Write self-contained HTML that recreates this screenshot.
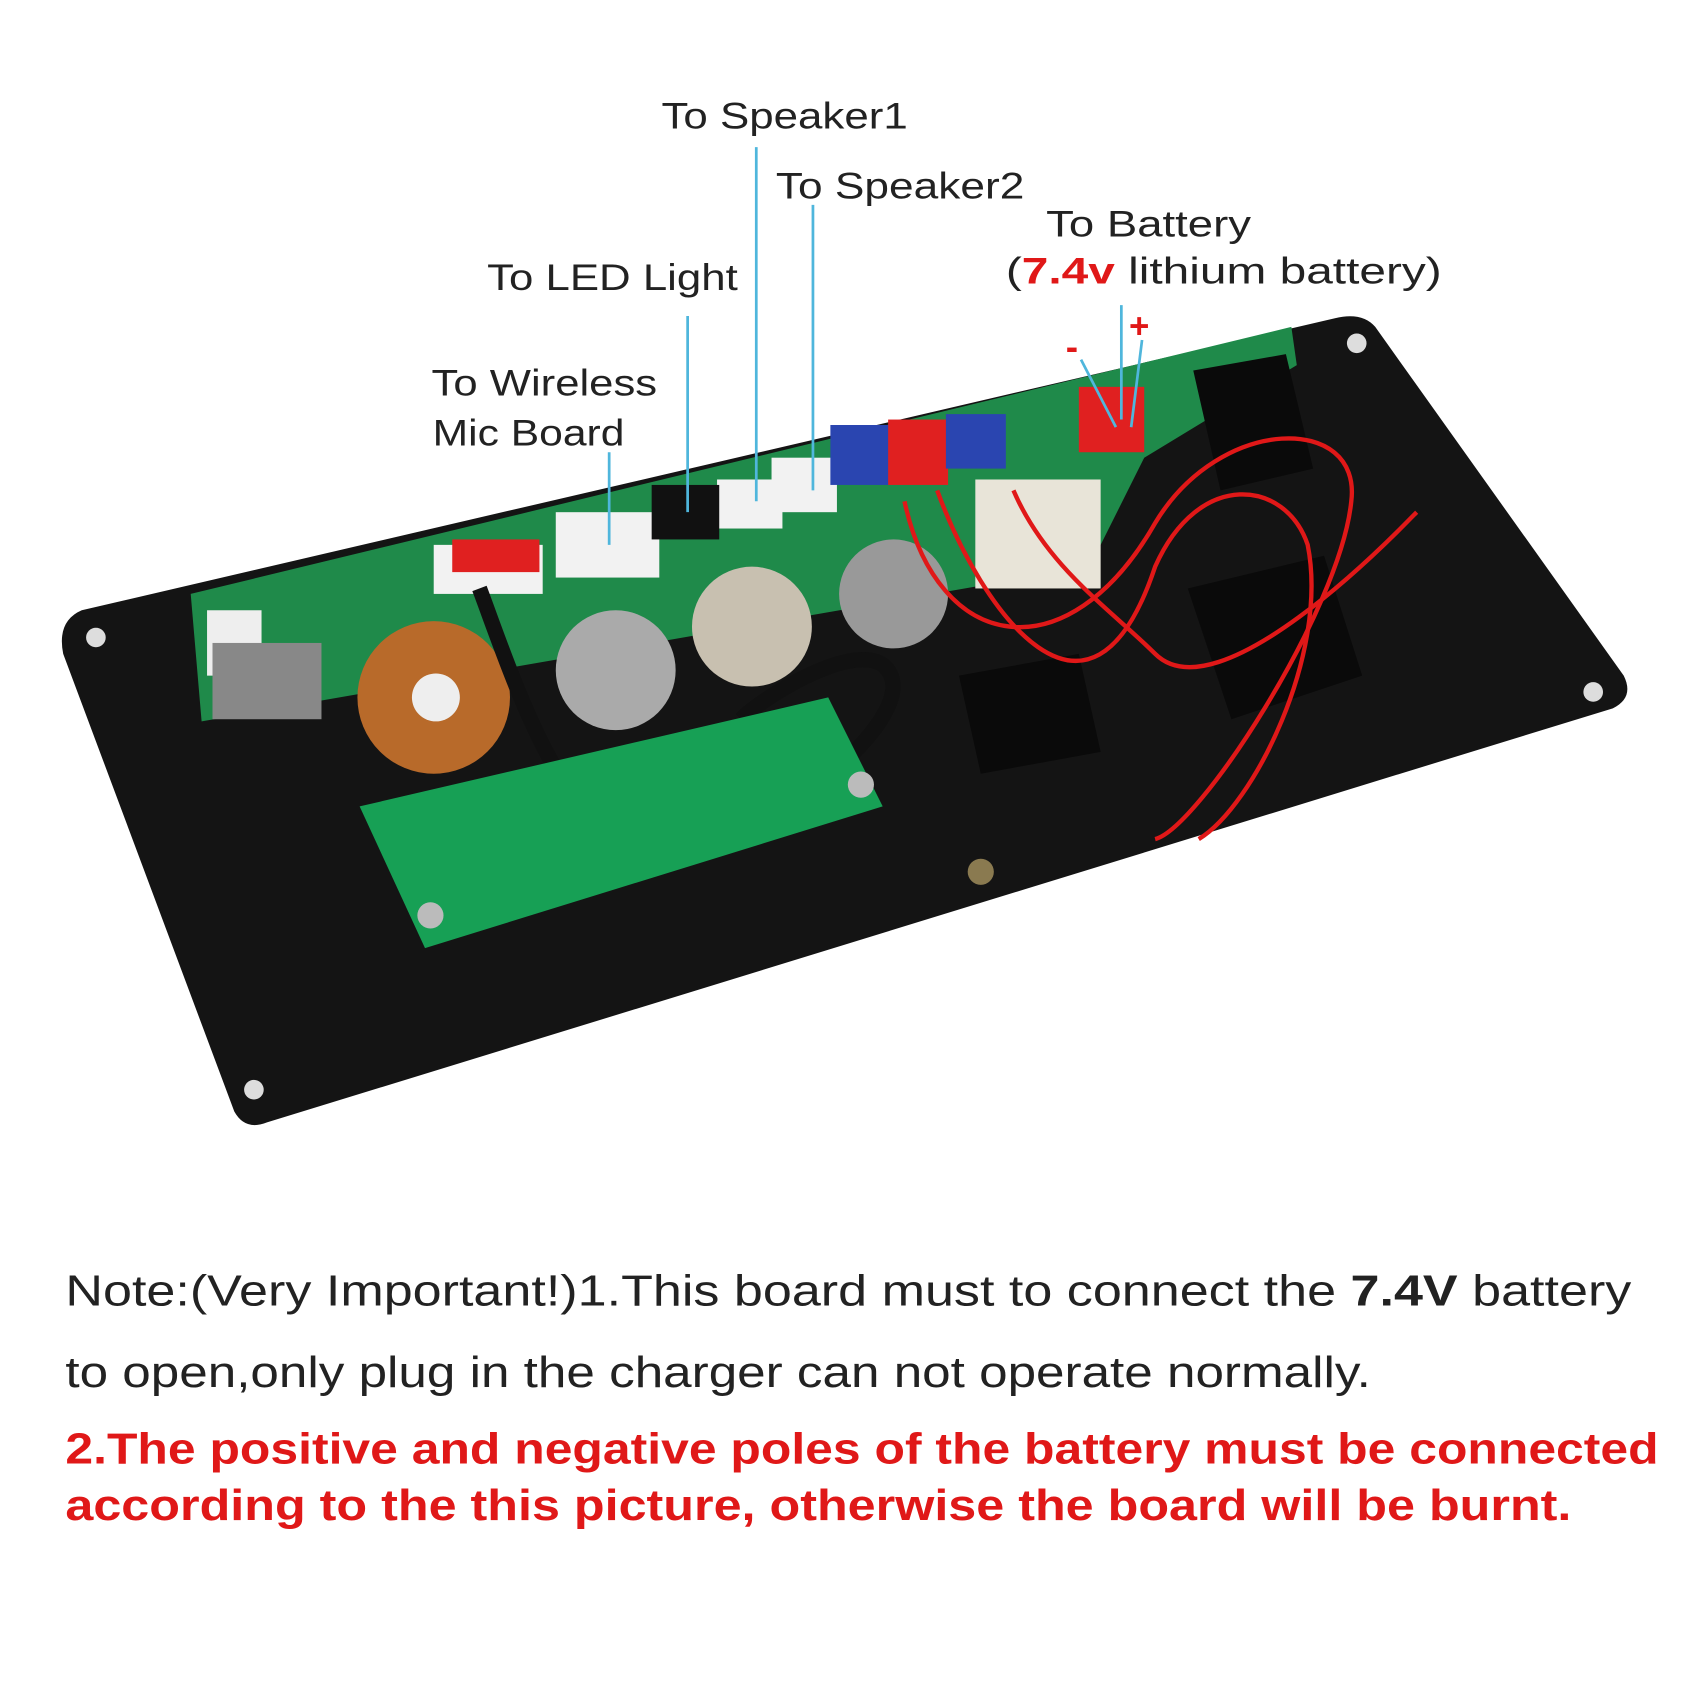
<!DOCTYPE html>
<html><head><meta charset="utf-8"><style>html,body{margin:0;padding:0;background:#fff}svg{display:block}</style></head>
<body>
<svg width="1700" height="1700" viewBox="0 0 1560 1560" xmlns="http://www.w3.org/2000/svg" font-family="Liberation Sans, sans-serif">
<path d="M75,560 L1225,292 Q1250,286 1262,300 L1490,620 Q1500,640 1480,650 L245,1030 Q225,1038 215,1020 L58,600 Q52,570 75,560 Z" fill="#141414"/>
<g fill="#ddd"><circle cx="88" cy="585" r="9"/><circle cx="1245" cy="315" r="9"/><circle cx="1462" cy="635" r="9"/><circle cx="233" cy="1000" r="9"/></g>
<circle cx="900" cy="800" r="12" fill="#8a7a50"/>
<path d="M175,545 L1185,300 L1190,335 L1050,420 L1000,520 L185,662 Z" fill="#1f8a4a"/>
<rect x="190" y="560" width="50" height="60" fill="#eee"/>
<rect x="195" y="590" width="100" height="70" fill="#888"/>
<g fill="#f2f2f2"><rect x="398" y="500" width="100" height="45"/><rect x="510" y="470" width="95" height="60"/><rect x="658" y="440" width="60" height="45"/><rect x="708" y="420" width="60" height="50"/></g>
<rect x="598" y="445" width="62" height="50" fill="#111"/>
<rect x="762" y="390" width="55" height="55" fill="#2a45b0"/><rect x="815" y="385" width="55" height="60" fill="#e02020"/><rect x="868" y="380" width="55" height="50" fill="#2a45b0"/>
<rect x="990" y="355" width="60" height="60" fill="#e02020"/>
<rect x="415" y="495" width="80" height="30" fill="#e02020"/>
<circle cx="398" cy="640" r="70" fill="#b86a2a"/><circle cx="400" cy="640" r="22" fill="#eee"/>
<circle cx="565" cy="615" r="55" fill="#aaa"/><circle cx="690" cy="575" r="55" fill="#c8c0b0"/>
<circle cx="820" cy="545" r="50" fill="#999"/><rect x="895" y="440" width="115" height="100" fill="#e8e4d8"/>
<path d="M1095,340 L1180,325 L1205,430 L1120,450 Z" fill="#0a0a0a"/>
<path d="M1090,540 L1215,510 L1250,620 L1130,660 Z" fill="#0a0a0a"/>
<path d="M880,620 L990,600 L1010,690 L900,710 Z" fill="#0a0a0a"/>
<g fill="none" stroke="#e01818" stroke-width="4">
<path d="M830,460 C860,600 980,620 1060,480 C1120,380 1250,380 1240,460 C1230,560 1100,760 1060,770"/>
<path d="M860,450 C900,560 1000,700 1060,520 C1100,430 1180,440 1200,500 C1220,600 1150,740 1100,770"/>
<path d="M930,450 C960,520 1020,560 1060,600 C1120,660 1290,480 1300,470"/>
</g>
<path d="M440,540 C470,620 520,780 600,780 C700,780 860,650 810,610 C780,590 700,640 680,660" fill="none" stroke="#111" stroke-width="14"/>
<path d="M330,740 L760,640 L810,740 L390,870 Z" fill="#17a055"/>
<circle cx="790" cy="720" r="12" fill="#bbb"/><circle cx="395" cy="840" r="12" fill="#bbb"/>
<g stroke="#4fb6dc" stroke-width="2.5" fill="none">
<line x1="694" y1="135" x2="694" y2="460"/><line x1="746" y1="188" x2="746" y2="450"/>
<line x1="631" y1="290" x2="631" y2="470"/><line x1="559" y1="415" x2="559" y2="500"/>
<line x1="1029" y1="280" x2="1029" y2="385"/>
<line x1="992" y1="330" x2="1024" y2="392"/><line x1="1048" y1="312" x2="1038" y2="392"/>
</g>
<g font-size="34" fill="#222">
<text x="607" y="118" textLength="226" lengthAdjust="spacingAndGlyphs">To Speaker1</text>
<text x="712" y="182" textLength="228" lengthAdjust="spacingAndGlyphs">To Speaker2</text>
<text x="960" y="217" textLength="188" lengthAdjust="spacingAndGlyphs">To Battery</text>
<text x="923" y="260" textLength="400" lengthAdjust="spacingAndGlyphs">(<tspan fill="#e01818" font-weight="bold">7.4v</tspan> lithium battery)</text>
<text x="447" y="266" textLength="230" lengthAdjust="spacingAndGlyphs">To LED Light</text>
<text x="396" y="363" textLength="207" lengthAdjust="spacingAndGlyphs">To Wireless</text>
<text x="397" y="409" textLength="176" lengthAdjust="spacingAndGlyphs">Mic Board</text>
</g>
<text x="978" y="330" font-size="34" font-weight="bold" fill="#e01818">-</text>
<text x="1036" y="310" font-size="32" font-weight="bold" fill="#e01818">+</text>
<g font-size="40" fill="#222">
<text x="60" y="1198" textLength="1437" lengthAdjust="spacingAndGlyphs">Note:(Very Important!)1.This board must to connect the <tspan font-weight="bold">7.4V</tspan> battery</text>
<text x="60" y="1273" textLength="1198" lengthAdjust="spacingAndGlyphs">to open,only plug in the charger can not operate normally.</text>
</g>
<g font-size="40" font-weight="bold" fill="#e01818">
<text x="60" y="1343" textLength="1462" lengthAdjust="spacingAndGlyphs">2.The positive and negative poles of the battery must be connected</text>
<text x="60" y="1395" textLength="1382" lengthAdjust="spacingAndGlyphs">according to the this picture, otherwise the board will be burnt.</text>
</g>
</svg>
</body></html>
